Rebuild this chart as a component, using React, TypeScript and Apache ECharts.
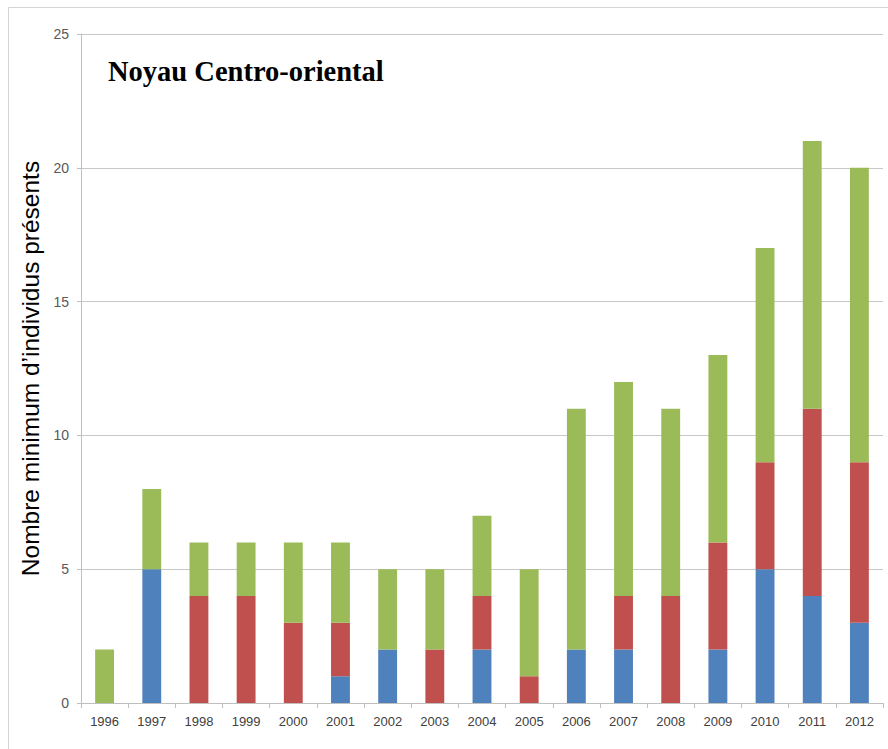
import React, { useEffect, useRef } from "react";
import * as echarts from "echarts";

const years = ["1996","1997","1998","1999","2000","2001","2002","2003","2004","2005","2006","2007","2008","2009","2010","2011","2012"];
const blueValues = [0, 5, 0, 0, 0, 1, 2, 0, 2, 0, 2, 2, 0, 2, 5, 4, 3];
const redValues = [0, 0, 4, 4, 3, 2, 0, 2, 2, 1, 0, 2, 4, 4, 4, 7, 6];
const greenValues = [2, 3, 2, 2, 3, 3, 3, 3, 3, 4, 9, 8, 7, 7, 8, 10, 11];
const yTicks = [0, 5, 10, 15, 20, 25];

export default function App() {
  const ref = useRef<HTMLDivElement>(null);
  useEffect(() => {
    if (!ref.current) return;
    const chart = echarts.init(ref.current, null, { renderer: "svg" });
    const mk = (name: string, data: number[], color: string) => ({
      name,
      type: "bar",
      stack: "total",
      data: data.map((v) => (v === 0 ? null : v)),
      barWidth: "40%",
      itemStyle: { color },
    });
    chart.setOption({
      animation: false,
      backgroundColor: "#ffffff",
      graphic: [
        {
          type: "rect",
          shape: { x: 8.5, y: 7.5, width: 900, height: 800 },
          style: { fill: "none", stroke: "#d4d4d4", lineWidth: 1 },
        },
        {
          type: "text",
          left: 108,
          top: 57,
          style: {
            text: "Noyau Centro-oriental",
            font: "bold 28.5px 'Liberation Serif', 'Times New Roman', serif",
            fill: "#000000",
          },
        },
      ],
      grid: { left: 81, top: 34, right: 5, bottom: 46, containLabel: false },
      xAxis: {
        type: "category",
        data: years,
        axisLine: { lineStyle: { color: "#bfbfbf" } },
        axisTick: { show: true, length: 5, lineStyle: { color: "#bfbfbf" } },
        axisLabel: {
          color: "#404040",
          fontSize: 13,
          fontFamily: "'Liberation Sans', Arial, sans-serif",
          margin: 12,
          interval: 0,
        },
      },
      yAxis: {
        type: "value",
        min: yTicks[0],
        max: yTicks[yTicks.length - 1],
        interval: 5,
        name: "Nombre minimum d\u2019individus pr\u00e9sents",
        nameLocation: "middle",
        nameGap: 24,
        nameTextStyle: {
          color: "#000000",
          fontSize: 24.5,
          fontFamily: "'Liberation Sans', Arial, sans-serif",
        },
        axisLine: { show: true, lineStyle: { color: "#bfbfbf" } },
        axisTick: { show: true, length: 4, lineStyle: { color: "#bfbfbf" } },
        splitLine: { lineStyle: { color: "#c8c8c8" } },
        axisLabel: {
          color: "#595959",
          fontSize: 14,
          fontFamily: "'Liberation Sans', Arial, sans-serif",
          margin: 12,
        },
      },
      series: [
        mk("Bleu", blueValues, "#4f81bd"),
        mk("Rouge", redValues, "#c0504d"),
        mk("Vert", greenValues, "#9bbb59"),
      ],
    });
    return () => chart.dispose();
  }, []);
  return (
    <div
      ref={ref}
      style={{ position: "fixed", left: 0, top: 0, width: 888, height: 749 }}
    />
  );
}
